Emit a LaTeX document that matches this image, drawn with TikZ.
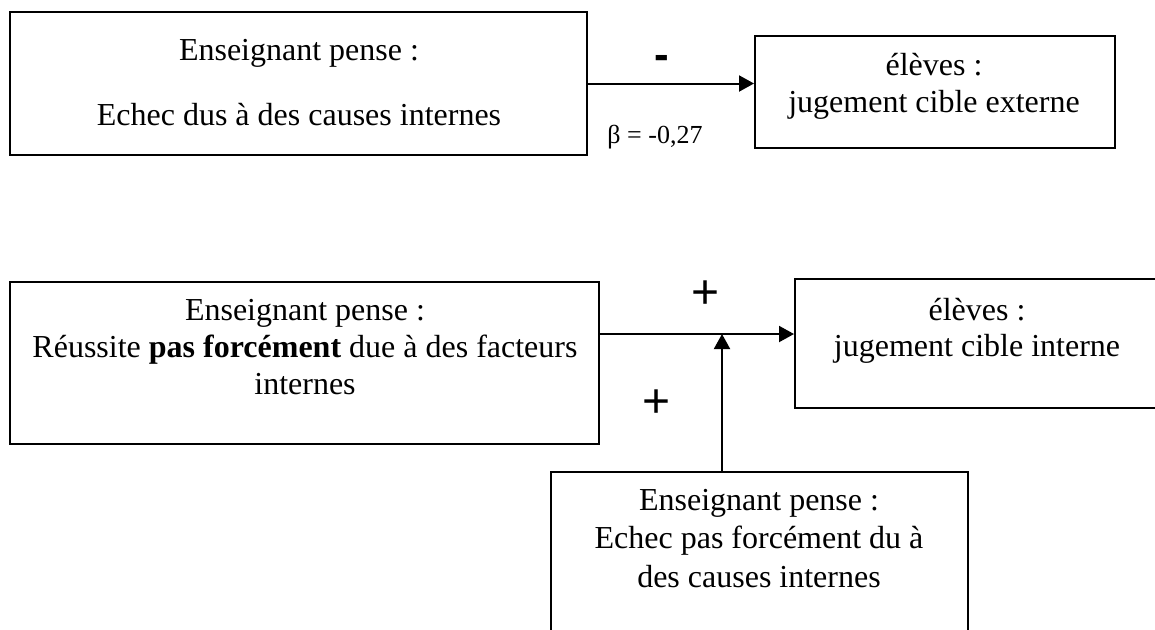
\documentclass[tikz,border=0pt]{standalone}
\usepackage{fontspec}
\setmainfont{Liberation Serif}
\newfontfamily\sansf{Liberation Sans}
\usetikzlibrary{arrows.meta,fit}
\begin{document}
\begin{tikzpicture}[x=0.5pt,y=-0.5pt,
  box/.style={draw,line width=1pt,inner sep=0pt,fit={#1}},
  txt/.style={anchor=base,inner sep=0pt,font=\fontsize{16pt}{18.5pt}\selectfont},
  arr/.style={line width=1pt,-{Triangle[length=7.5pt,width=8pt]}},
  sign/.style={inner sep=0pt,font=\sansf\fontsize{24pt}{24pt}\selectfont},
  minus/.style={inner sep=0pt,font=\sansf\bfseries\fontsize{22pt}{22pt}\selectfont},
  coef/.style={anchor=base,inner sep=0pt,font=\fontsize{13pt}{15pt}\selectfont}]
\useasboundingbox (0,0) rectangle (1155,629);
\clip (0,0) rectangle (1155,629);
% boxes
\node[box={(10,12) (587,155)}] (tl) {};
\node[box={(755,36) (1115,148)}] (tr) {};
\node[box={(10,282) (599,444)}] (bl) {};
\node[box={(795,279) (1175,408)}] (br) {};
\node[box={(551,472) (968,645)}] (bm) {};
% texts
\node[txt] (tl1) at (299,60) {Enseignant pense :};
\node[txt] (tl2) at (299,125) {Echec dus à des causes internes};
\node[txt] (tr1) at (934,75) {élèves :};
\node[txt] (tr2) at (934,112) {jugement cible externe};
\node[txt] (bl1) at (305,320) {Enseignant pense :};
\node[txt] (bl2) at (305,357) {Réussite \textbf{pas forcément} due à des facteurs};
\node[txt] (bl3) at (305,394) {internes};
\node[txt] (br1) at (977,320) {élèves :};
\node[txt] (br2) at (977,356) {jugement cible interne};
\node[txt] (bm1) at (759,510) {Enseignant pense :};
\node[txt] (bm2) at (759,548) {Echec pas forcément du à};
\node[txt] (bm3) at (759,587) {des causes internes};
% connectors
\coordinate (j) at (722,334);
\draw[arr] (tl.east) -- (tl.east -| tr.west);
\draw[arr] (bl.east |- j) -- (j -| br.west);
\draw[arr] (j |- bm.north) -- (j);
% labels
\node[minus] (m) at (662,62) {-};
\node[coef] (beta) at (655,143) {β = -0,27};
\node[sign] (p1) at (706,295) {+};
\node[sign] (p2) at (657,404) {+};
\end{tikzpicture}
\end{document}
